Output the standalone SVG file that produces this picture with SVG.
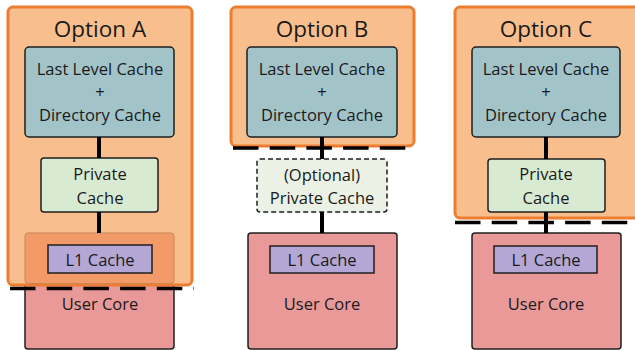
<svg xmlns="http://www.w3.org/2000/svg" width="635" height="350" viewBox="0 0 635 350">
<style>
text{font-family:"Open Sans","Noto Sans","DejaVu Sans",sans-serif;fill:#1a1a1a;text-anchor:middle}
.title{font-size:22.5px}
.lbl{font-size:16.5px}
.opt{fill:#F8BE8D;stroke:#ED7D31;stroke-width:3}
.llc{fill:#A2C4C9;stroke:#1f1f1f;stroke-width:1.5}
.priv{fill:#D9EAD3;stroke:#1f1f1f;stroke-width:1.5}
.privopt{fill:#EBF2E5;stroke:#1f1f1f;stroke-width:1.5;stroke-dasharray:5 3}
.core{fill:#EA9999;stroke:#1f1f1f;stroke-width:1.5}
.l1{fill:#B4A7D6;stroke:#1f1f1f;stroke-width:1.5}
.ovl{fill:#F29B68;stroke:#C98658;stroke-width:1}
.bound{stroke:#000;stroke-width:3.5;stroke-dasharray:25.5 11.2;fill:none}
.conn{stroke:#000;stroke-width:4;fill:none}
</style>

<!-- Option A -->
<g id="userCoreA">
<rect class="core" x="25" y="233" width="149" height="116" rx="3"/>
</g>
<g id="optionA">
<rect class="opt" x="8" y="7" width="184" height="278" rx="5"/>
<text class="title" x="100" y="37">Option A</text>
</g>
<g id="coreRegionA">
<rect class="ovl" x="25" y="233" width="149" height="50.5" rx="3"/>
<text class="lbl" x="100" y="310">User Core</text>
</g>
<g id="llcA">
<rect class="llc" x="25" y="47" width="149" height="90" rx="4"/>
<text class="lbl" x="100" y="75">Last Level Cache</text>
<text class="lbl" x="100" y="98">+</text>
<text class="lbl" x="100" y="121">Directory Cache</text>
</g>
<g id="privA">
<rect class="priv" x="41" y="158" width="117" height="54" rx="3"/>
<text class="lbl" x="100" y="180">Private</text>
<text class="lbl" x="100" y="204">Cache</text>
</g>
<g id="l1A">
<rect class="l1" x="48" y="245" width="104" height="28"/>
<text class="lbl" x="100" y="266">L1 Cache</text>
</g>

<!-- Option B -->
<g id="optionB">
<rect class="opt" x="231" y="7" width="183" height="139" rx="5"/>
<text class="title" x="322" y="37">Option B</text>
</g>
<g id="llcB">
<rect class="llc" x="247" y="47" width="150" height="90" rx="4"/>
<text class="lbl" x="322" y="75">Last Level Cache</text>
<text class="lbl" x="322" y="98">+</text>
<text class="lbl" x="322" y="121">Directory Cache</text>
</g>
<g id="privB">
<rect class="privopt" x="257" y="159" width="130" height="53" rx="3"/>
<text class="lbl" x="322" y="181">(Optional)</text>
<text class="lbl" x="322" y="204">Private Cache</text>
</g>
<g id="userCoreB">
<rect class="core" x="248" y="233" width="149" height="116" rx="3"/>
<text class="lbl" x="322" y="310">User Core</text>
</g>
<g id="l1B">
<rect class="l1" x="270" y="246" width="104" height="27"/>
<text class="lbl" x="322" y="266">L1 Cache</text>
</g>

<!-- Option C -->
<g id="optionC">
<rect class="opt" x="455" y="7" width="184" height="211" rx="5"/>
<text class="title" x="546" y="37">Option C</text>
</g>
<g id="llcC">
<rect class="llc" x="472" y="47" width="148" height="90" rx="4"/>
<text class="lbl" x="546" y="75">Last Level Cache</text>
<text class="lbl" x="546" y="98">+</text>
<text class="lbl" x="546" y="121">Directory Cache</text>
</g>
<g id="privC">
<rect class="priv" x="488" y="159" width="117" height="53" rx="3"/>
<text class="lbl" x="546" y="180">Private</text>
<text class="lbl" x="546" y="204">Cache</text>
</g>
<g id="userCoreC">
<rect class="core" x="472" y="233" width="149" height="116" rx="3"/>
<text class="lbl" x="546" y="310">User Core</text>
</g>
<g id="l1C">
<rect class="l1" x="494" y="246" width="103" height="27"/>
<text class="lbl" x="546" y="266">L1 Cache</text>
</g>

<!-- boundaries -->
<g id="boundaries">
<line class="bound" x1="10" y1="288.5" x2="194" y2="288.5"/>
<line class="bound" x1="233" y1="148" x2="416" y2="148"/>
<line class="bound" x1="455" y1="222.5" x2="635" y2="222.5"/>
</g>

<!-- connectors -->
<g id="connectors">
<line class="conn" x1="99" y1="137" x2="99" y2="158"/>
<line class="conn" x1="99" y1="212" x2="99" y2="233"/>
<line class="conn" x1="322" y1="137" x2="322" y2="159"/>
<line class="conn" x1="322" y1="212" x2="322" y2="233"/>
<line class="conn" x1="546" y1="137" x2="546" y2="159"/>
<line class="conn" x1="546" y1="212" x2="546" y2="233"/>
</g>
</svg>
